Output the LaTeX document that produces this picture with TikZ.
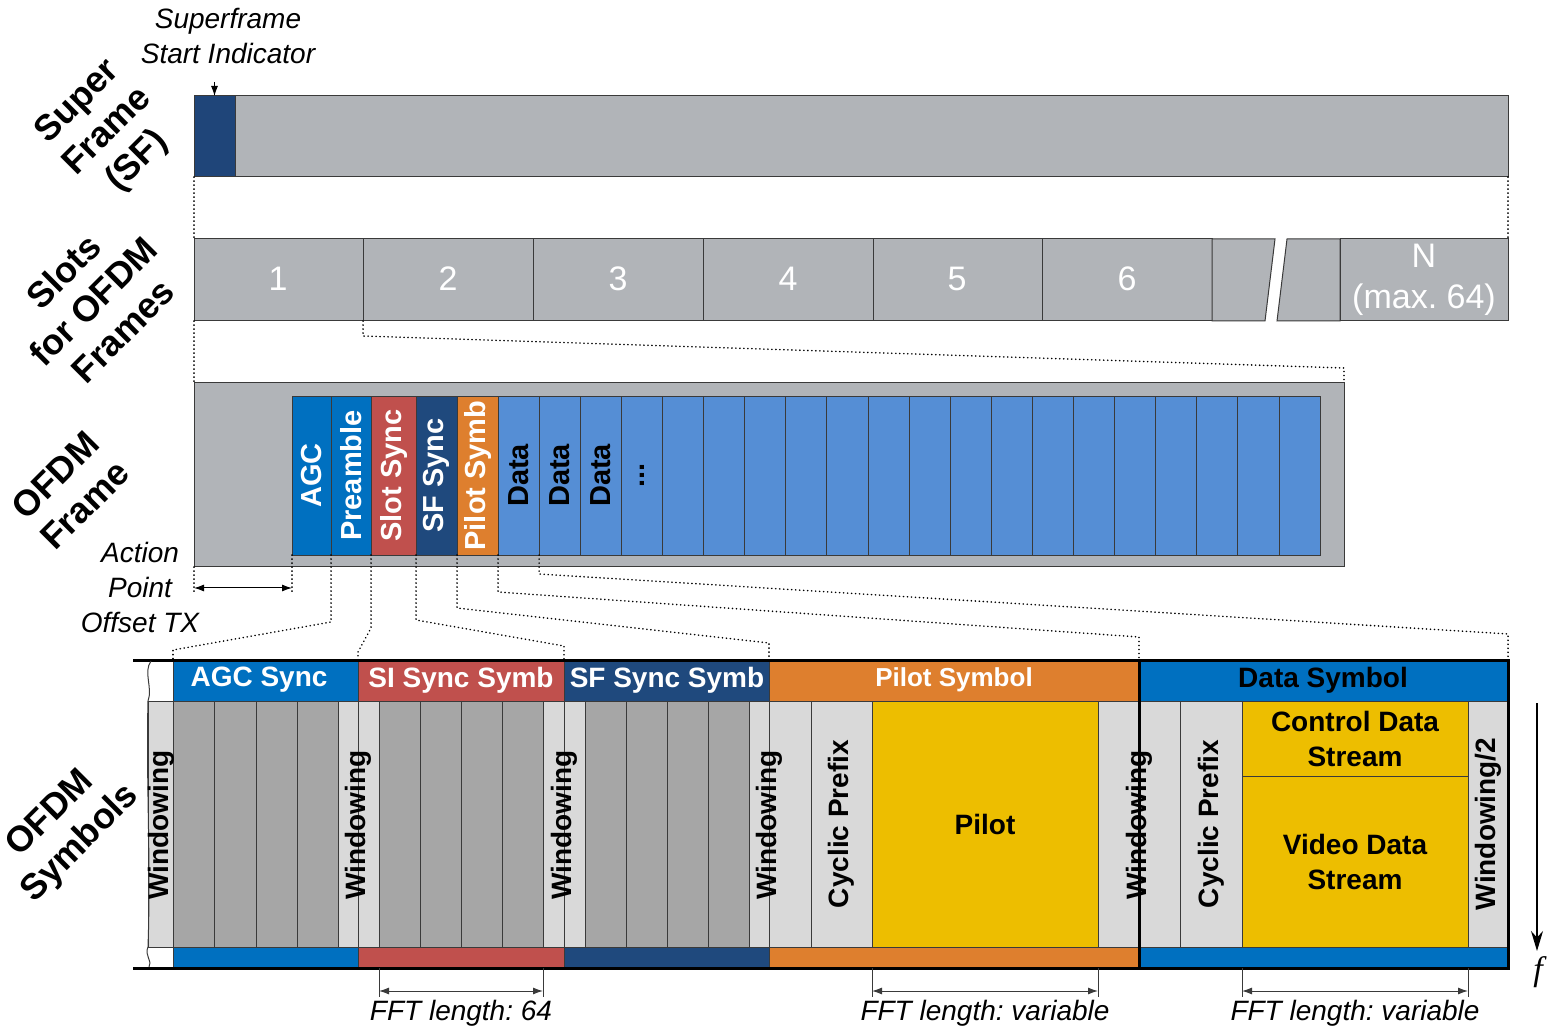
\documentclass[tikz,border=0pt]{standalone}
\usepackage{fontspec}
\setmainfont{Liberation Sans}
\newfontfamily\serifit{Liberation Serif}
\usetikzlibrary{fit,arrows.meta}
\frenchspacing
\definecolor{sfgray}{HTML}{B1B4B8}
\definecolor{navy}{HTML}{1F4579}
\definecolor{agcblue}{HTML}{0070C0}
\definecolor{slred}{HTML}{C0504D}
\definecolor{sfnavy}{HTML}{1F497D}
\definecolor{porange}{HTML}{DE7F2E}
\definecolor{datablue}{HTML}{558ED5}
\definecolor{lgray}{HTML}{D9D9D9}
\definecolor{mgray}{HTML}{A6A6A6}
\definecolor{pyellow}{HTML}{EDBE00}
\definecolor{edge}{HTML}{3A3A3A}
\newcommand\blk[6]{\path (#2,#3) coordinate (#1-a) (#4,#5) coordinate (#1-b);
  \node[fit=(#1-a)(#1-b), inner sep=0pt, outer sep=0pt, #6] (#1) {};}
\begin{document}
\begin{tikzpicture}[x=0.5pt,y=-0.5pt,
  dots/.style={line width=0.8pt, dash pattern=on 0.1pt off 1.9pt, line cap=round},
  wlab/.style={text=white, font=\fontsize{14.5}{17}\selectfont\bfseries, rotate=90, inner sep=0pt},
  blab/.style={text=black, font=\fontsize{14.5}{17}\selectfont\bfseries, rotate=90, inner sep=0pt},
  hdr/.style={font=\fontsize{14}{16}\selectfont\bfseries, inner sep=0pt},
  btxt/.style={font=\fontsize{14}{17.5}\selectfont\bfseries, inner sep=0pt, align=center},
  side/.style={font=\fontsize{18}{21}\selectfont\bfseries, rotate=45, align=center, inner sep=0pt},
  itl/.style={font=\fontsize{14}{17.5}\selectfont\itshape, align=center, inner sep=0pt},
  slotnum/.style={text=white, font=\fontsize{17}{20.5}\selectfont, align=center, inner sep=0pt},
  dimline/.style={line width=0.5pt, draw=edge},
  dimarrow/.style={line width=0.5pt, draw=edge, {Latex[length=5pt,width=3.5pt]}-{Latex[length=5pt,width=3.5pt]}}
]
\useasboundingbox (0,0) rectangle (1547,1031);

% ---------- Super frame ----------
\blk{sfbar}{194}{96}{1508}{177}{fill=sfgray, draw=edge, line width=0.5pt}
\blk{ssi}{194}{96}{235}{177}{fill=navy, draw=edge, line width=0.5pt}
\node[itl] (ssilab) at (228,36) {Superframe\\Start Indicator};
\coordinate (ssiarr) at (214.5,82);
\draw[line width=0.5pt, -{Latex[length=5pt,width=3.5pt]}] (ssiarr) -- (ssi.north);
\node[side] (lsf) at (108,132) {Super\\Frame\\(SF)};

% ---------- Slots ----------
\tikzset{slotst/.style={fill=sfgray, draw=edge, line width=0.5pt}}
\blk{s1}{194}{239}{363}{321}{slotst}
\blk{s2}{363}{239}{533}{321}{slotst}
\blk{s3}{533}{239}{703}{321}{slotst}
\blk{s4}{703}{239}{873}{321}{slotst}
\blk{s5}{873}{239}{1042}{321}{slotst}
\blk{s6}{1042}{239}{1212}{321}{slotst}
\draw[slotst] (1212,239) -- (1275,239) -- (1265,321) -- (1212,321) -- cycle;
\draw[slotst] (1287,239) -- (1340,239) -- (1340,321) -- (1277,321) -- cycle;
\blk{sN}{1340}{239}{1508}{321}{slotst}
\node[slotnum] (n1) at (278,279) {1};
\node[slotnum] (n2) at (448,279) {2};
\node[slotnum] (n3) at (618,279) {3};
\node[slotnum] (n4) at (788,279) {4};
\node[slotnum] (n5) at (957,279) {5};
\node[slotnum] (n6) at (1127,279) {6};
\node[slotnum] (nN) at (1424,280) {N\\(max. 64)};
\node[side] (lslots) at (93,301) {Slots\\for OFDM\\Frames};

\draw[dots] (sfbar.south west) -- (s1.north west);
\draw[dots] (sfbar.south east) -- (sN.north east);

% ---------- OFDM frame ----------
\blk{frame}{194}{383}{1344}{567}{fill=sfgray, draw=edge, line width=0.5pt}
\blk{agc}{292}{396}{331}{555}{fill=agcblue, draw=edge, line width=0.4pt}
\blk{pre}{331}{396}{371}{555}{fill=agcblue, draw=edge, line width=0.4pt}
\blk{ssync}{371}{396}{416}{555}{fill=slred, draw=edge, line width=0.4pt}
\blk{sfs}{416}{396}{457}{555}{fill=sfnavy, draw=edge, line width=0.4pt}
\blk{pil}{457}{396}{498}{555}{fill=porange, draw=edge, line width=0.4pt}
\foreach \i in {0,...,19}{
  \pgfmathsetmacro\xa{498+41.1*\i}
  \pgfmathsetmacro\xb{\xa+41.1}
  \blk{d\i}{\xa}{396}{\xb}{555}{fill=datablue, draw=edge, line width=0.4pt}
}
\node[wlab] (tagc) at (agc.center) {AGC};
\node[wlab] (tpre) at (pre.center) {Preamble};
\node[wlab] (tss) at (ssync.center) {Slot Sync};
\node[wlab] (tsf) at (sfs.center) {SF Sync};
\node[wlab] (tpil) at (pil.center) {Pilot Symb};
\node[blab] (td0) at (d0.center) {Data};
\node[blab] (td1) at (d1.center) {Data};
\node[blab] (td2) at (d2.center) {Data};
\node[blab] (td3) at (d3.center) {...};
\node[side] (lframe) at (70,490) {OFDM\\Frame};

\draw[dots] (s1.south west) -- (frame.north west);
\coordinate (k1) at (363,336);
\coordinate (k2) at (1344,368);
\draw[dots] (s2.south west) -- (k1) -- (k2) -- (frame.north east);

% action point offset
\node[itl, align=center] (apo) at (140,587) {Action\\Point\\Offset TX};
\coordinate (apl) at (194,588);
\coordinate (apr) at (292,588);
\coordinate (apld) at (194,592);
\coordinate (aprd) at (292,592);
\draw[dots] (frame.south west) -- (apld);
\draw[dots] (agc.south west) -- (aprd);
\draw[dimarrow, draw=black] (apl) -- (apr);

% ---------- OFDM symbols ----------
\tikzset{lg/.style={fill=lgray, draw=edge, line width=0.4pt},
         mg/.style={fill=mgray, draw=edge, line width=0.4pt},
         yl/.style={fill=pyellow, draw=edge, line width=0.4pt}}
\blk{b0}{148}{701}{173}{947}{lg}
\blk{b1}{173}{701}{214}{947}{mg}
\blk{b2}{214}{701}{256}{947}{mg}
\blk{b3}{256}{701}{297}{947}{mg}
\blk{b4}{297}{701}{338}{947}{mg}
\blk{b5}{338}{701}{358}{947}{lg}
\blk{b6}{358}{701}{379}{947}{lg}
\blk{b7}{379}{701}{420}{947}{mg}
\blk{b8}{420}{701}{461}{947}{mg}
\blk{b9}{461}{701}{502}{947}{mg}
\blk{b10}{502}{701}{543}{947}{mg}
\blk{b11}{543}{701}{564}{947}{lg}
\blk{b12}{564}{701}{585}{947}{lg}
\blk{b13}{585}{701}{626}{947}{mg}
\blk{b14}{626}{701}{667}{947}{mg}
\blk{b15}{667}{701}{708}{947}{mg}
\blk{b16}{708}{701}{749}{947}{mg}
\blk{b17}{749}{701}{769}{947}{lg}
\blk{b18}{769}{701}{811}{947}{lg}
\blk{cp1}{811}{701}{872}{947}{lg}
\blk{pilot}{872}{701}{1098}{947}{yl}
\blk{b19}{1098}{701}{1139}{947}{lg}
\blk{b20}{1139}{701}{1180}{947}{lg}
\blk{cp2}{1180}{701}{1242}{947}{lg}
\blk{ctrl}{1242}{701}{1468}{776}{yl}
\blk{video}{1242}{776}{1468}{947}{yl}
\blk{w2}{1468}{701}{1508}{947}{lg}

% header and bottom bands
\blk{hagc}{173}{660}{358}{701}{fill=agcblue, draw=edge, line width=0.5pt}
\blk{hsi}{358}{660}{564}{701}{fill=slred, draw=edge, line width=0.5pt}
\blk{hsf}{564}{660}{769}{701}{fill=sfnavy, draw=edge, line width=0.5pt}
\blk{hpil}{769}{660}{1139}{701}{fill=porange, draw=edge, line width=0.5pt}
\blk{hdat}{1139}{660}{1508}{701}{fill=agcblue, draw=edge, line width=0.5pt}
\blk{fagc}{173}{947}{358}{968}{fill=agcblue, draw=edge, line width=0.5pt}
\blk{fsi}{358}{947}{564}{968}{fill=slred, draw=edge, line width=0.5pt}
\blk{fsf}{564}{947}{769}{968}{fill=sfnavy, draw=edge, line width=0.5pt}
\blk{fpil}{769}{947}{1139}{968}{fill=porange, draw=edge, line width=0.5pt}
\blk{fdat}{1139}{947}{1508}{968}{fill=agcblue, draw=edge, line width=0.5pt}

% thick frame lines
\draw[line width=1.5pt] (133,660) -- (hdat.north east);
\draw[line width=1.5pt] (133,968) -- (fdat.south east);
\draw[line width=1.5pt] (hdat.north west) rectangle (fdat.south east);
% break mark
\draw[line width=0.5pt, draw=edge] (151,661) .. controls (143,672) and (153,688) .. (148,701)
  .. controls (146,780) and (151,860) .. (148,947)
  .. controls (144,955) and (153,962) .. (149,967);

% header texts
\node[hdr, text=white] (thagc) at (259,680) {AGC Sync};
\node[hdr, text=white] (thsi) at (461,680) {SI Sync Symb};
\node[hdr, text=white] (thsf) at (667,680) {SF Sync Symb};
\node[hdr, text=white, font=\fontsize{13}{15}\selectfont\bfseries] (thpil) at (954,680) {Pilot Symbol};
\node[hdr, text=black] (thdat) at (1323,680) {Data Symbol};

% body texts
\node[btxt, rotate=90] (tw1) at (161,825) {Windowing};
\node[btxt, rotate=90] (tw2) at (358,825) {Windowing};
\node[btxt, rotate=90] (tw3) at (564,825) {Windowing};
\node[btxt, rotate=90] (tw4) at (769,825) {Windowing};
\node[btxt, rotate=90] (tw5) at (1139,825) {Windowing};
\node[btxt, rotate=90] (tw6) at (w2.center) {Windowing/2};
\node[btxt, rotate=90] (tcp1) at (cp1.center) {Cyclic Prefix};
\node[btxt, rotate=90] (tcp2) at (cp2.center) {Cyclic Prefix};
\node[btxt] (tpilot) at (985,824) {Pilot};
\node[btxt] (tctrl) at (ctrl.center) {Control Data\\Stream};
\node[btxt] (tvideo) at (video.center) {Video Data\\Stream};
\node[side] (lsym) at (66,829) {OFDM\\Symbols};

% dotted connectors frame -> symbols
\coordinate (c1a) at (331,622); \coordinate (c1b) at (173,650);
\coordinate (c2a) at (371,628); \coordinate (c2b) at (358,652);
\coordinate (c3a) at (416,620); \coordinate (c3b) at (564,646);
\coordinate (c4a) at (457,608); \coordinate (c4b) at (769,643);
\coordinate (c5a) at (498,592); \coordinate (c5b) at (1139,637);
\coordinate (c6a) at (539.1,574); \coordinate (c6b) at (1508,634);
\draw[dots] (agc.south east) -- (c1a) -- (c1b) -- (hagc.north west);
\draw[dots] (pre.south east) -- (c2a) -- (c2b) -- (hsi.north west);
\draw[dots] (ssync.south east) -- (c3a) -- (c3b) -- (hsf.north west);
\draw[dots] (sfs.south east) -- (c4a) -- (c4b) -- (hpil.north west);
\draw[dots] (pil.south east) -- (c5a) -- (c5b) -- (hdat.north west);
\draw[dots] (d0.south east) -- (c6a) -- (c6b) -- (hdat.north east);

% FFT dimensions
\coordinate (f1a) at (379,997); \coordinate (f1b) at (543,997);
\coordinate (f2a) at (872,997); \coordinate (f2b) at (1098,997);
\coordinate (f3a) at (1242,997); \coordinate (f3b) at (1468,997);
\draw[dimline] (b7.south west |- fsi.south) -- (f1a);
\draw[dimline] (b11.south west |- fsi.south) -- (f1b);
\draw[dimline] (pilot.south west |- fpil.south) -- (f2a);
\draw[dimline] (pilot.south east |- fpil.south) -- (f2b);
\draw[dimline] (video.south west |- fdat.south) -- (f3a);
\draw[dimline] (video.south east |- fdat.south) -- (f3b);
\draw[dimarrow] ([yshift=3pt]f1a) -- ([yshift=3pt]f1b);
\draw[dimarrow] ([yshift=3pt]f2a) -- ([yshift=3pt]f2b);
\draw[dimarrow] ([yshift=3pt]f3a) -- ([yshift=3pt]f3b);
\node[itl] (fft1) at (461,1013) {FFT length: 64};
\node[itl] (fft2) at (985,1013) {FFT length: variable};
\node[itl] (fft3) at (1355,1013) {FFT length: variable};

% frequency axis
\coordinate (fa) at (1537,703);
\coordinate (fb) at (1537,951);
\draw[line width=0.7pt, -{Stealth[length=10pt,width=6pt]}] (fa) -- (fb);
\node[font=\fontsize{17}{20}\selectfont\serifit\itshape, inner sep=0pt] (flab) at (1538,972) {f};
\end{tikzpicture}
\end{document}
